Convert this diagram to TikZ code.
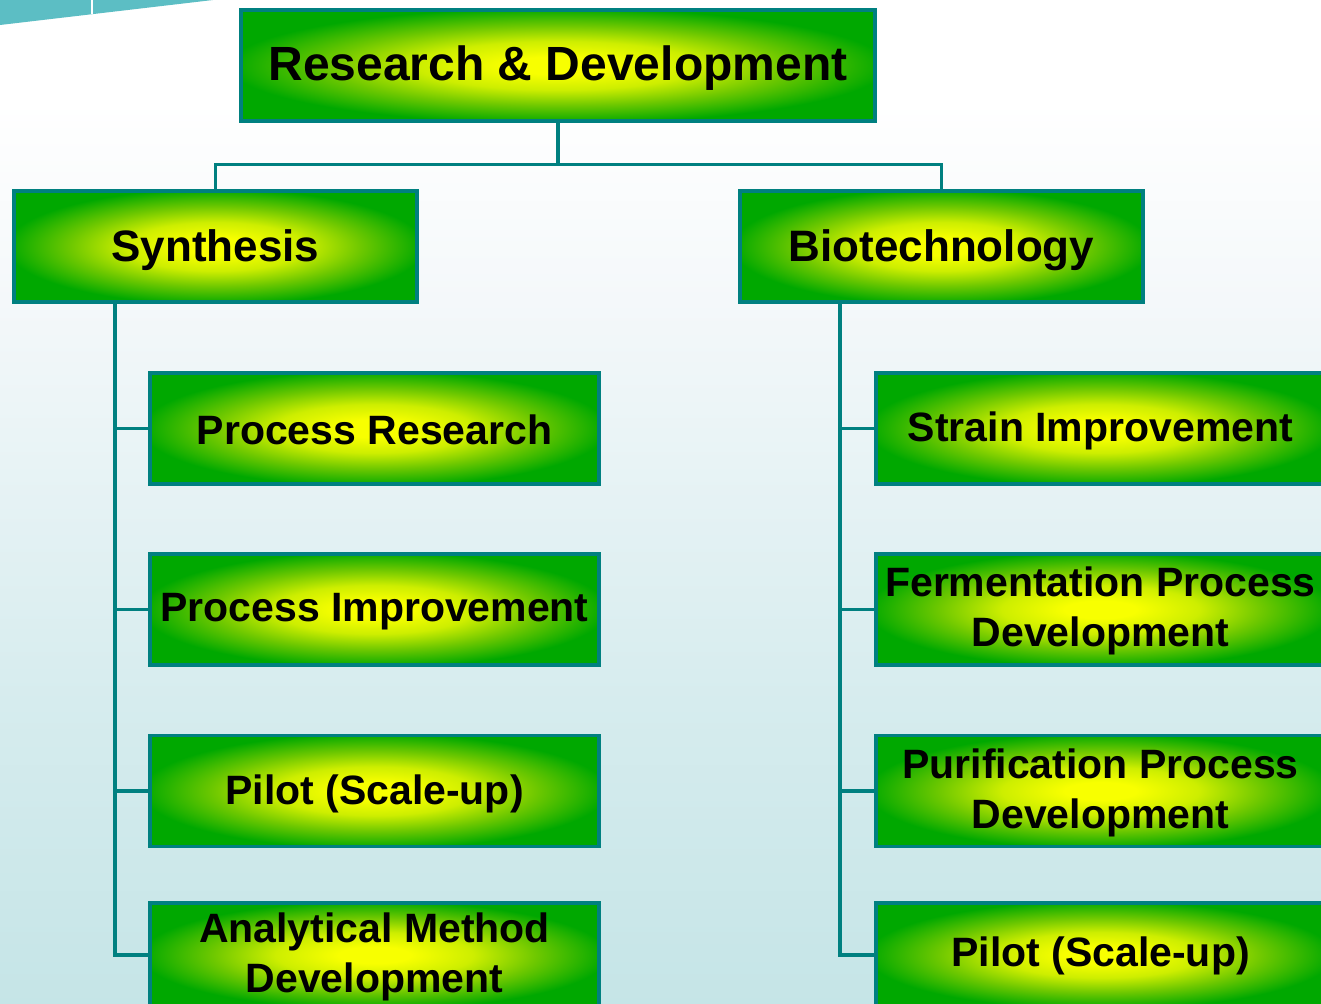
\documentclass[tikz,border=0pt]{standalone}
\usepackage{fontspec}
\setmainfont{Liberation Sans}
\usetikzlibrary{calc}
\definecolor{teal1}{RGB}{0,128,128}
\definecolor{decor}{RGB}{92,190,196}
\definecolor{bgA}{RGB}{168,215,219}
\definecolor{bgB}{RGB}{186,224,226}
\definecolor{bgC}{RGB}{214,236,238}
\definecolor{bgD}{RGB}{244,248,250}
\definecolor{yc}{RGB}{248,255,0}
\definecolor{yg}{RGB}{205,238,0}
\definecolor{mg}{RGB}{110,200,0}
\definecolor{gg}{RGB}{0,168,0}
\pgfdeclareverticalshading{bgshade}{100bp}{color(0bp)=(bgA); color(15bp)=(bgB); color(40bp)=(bgC); color(60bp)=(bgD); color(70bp)=(white); color(100bp)=(white)}
\pgfdeclareradialshading{boxshade}{\pgfpointorigin}{color(0bp)=(yc); color(4bp)=(yc); color(11bp)=(yg); color(18bp)=(mg); color(26bp)=(gg); color(80bp)=(gg)}
\newcommand{\dn}[2]{\raisebox{0pt}[\dimexpr\height+#1\relax][\depth]{#2}}
\tikzset{
  box/.style={draw=teal1, line width=3.5pt, shade, shading=boxshade, inner sep=0pt,
    align=center, text=black, font=\bfseries},
  topbox/.style={box, minimum width=634pt, minimum height=111pt, font=\bfseries\fontsize{48}{56}\selectfont},
  midbox/.style={box, minimum width=403pt, minimum height=111pt, font=\bfseries\fontsize{44}{52}\selectfont},
  subbox/.style={box, minimum width=449pt, minimum height=111pt, font=\bfseries\fontsize{41}{50}\selectfont},
  link/.style={draw=teal1, line width=3.5pt}
}
\begin{document}
\begin{tikzpicture}[x=1pt,y=-1pt]
\useasboundingbox (0,0) rectangle (1321,1003);
\clip (0,0) rectangle (1321,1003);
\shade[shading=bgshade] (0,0) rectangle (1321,1003);
\fill[decor] (0,0) -- (213,0) -- (0,25) -- cycle;
\draw[white, line width=1.5pt] (92,0) -- (92,14);

\node[topbox] (rd) at (558,65.5) {\dn{6pt}{Research \& Development}};
\node[midbox] (syn) at (215.5,246.5) {\dn{8pt}{Synthesis}};
\node[midbox] (bio) at (941.5,246.5) {\dn{8pt}{Biotechnology}};

\node[subbox] (l1) at (374.5,428.5) {\dn{2pt}{Process Research}};
\node[subbox] (l2) at (374.5,609.5) {\dn{5pt}{Process Improvement}};
\node[subbox] (l3) at (374.5,791) {\dn{5pt}{Pilot (Scale-up)}};
\node[subbox, minimum height=104pt] (l4) at (374.5,955) {\dn{4pt}{Analytical Method}\\Development};

\node[subbox] (r1) at (1100.5,428.5) {\dn{5pt}{Strain Improvement}};
\node[subbox] (r2) at (1100.5,609.5) {\dn{3pt}{Fermentation Process}\\Development};
\node[subbox] (r3) at (1100.5,791) {\dn{3pt}{Purification Process}\\Development};
\node[subbox, minimum height=104pt] (r4) at (1100.5,955) {\dn{2pt}{Pilot (Scale-up)}};

\coordinate (ls) at (115,0);
\coordinate (rs) at (840,0);

\draw[link] (rd.south) -- ++(0,42) -| (syn.north);
\draw[link] (rd.south) -- ++(0,42) -| (bio.north);

\draw[link] (ls |- syn.south) |- (l4.west);
\draw[link] (ls |- l1.west) -- (l1.west);
\draw[link] (ls |- l2.west) -- (l2.west);
\draw[link] (ls |- l3.west) -- (l3.west);

\draw[link] (rs |- bio.south) |- (r4.west);
\draw[link] (rs |- r1.west) -- (r1.west);
\draw[link] (rs |- r2.west) -- (r2.west);
\draw[link] (rs |- r3.west) -- (r3.west);
\end{tikzpicture}
\end{document}
